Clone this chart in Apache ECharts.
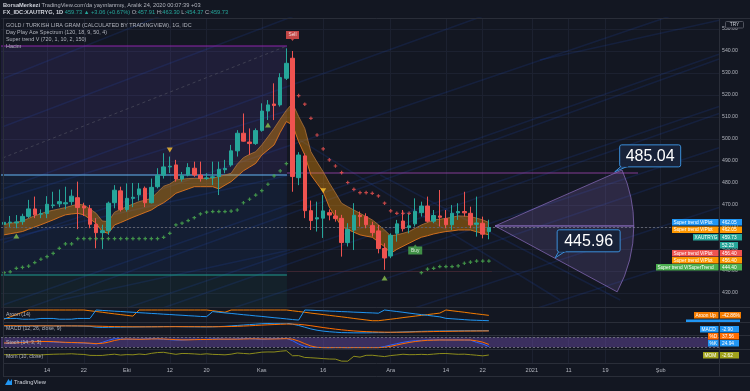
<!DOCTYPE html>
<html>
<head>
<meta charset="utf-8">
<script src="https://cdn.jsdelivr.net/npm/echarts@6/dist/echarts.min.js"></script>
<style>
html,body{margin:0;padding:0;background:#131722;overflow:hidden;}
#chart{width:750px;height:391px;}
</style>
</head>
<body>
<div id="chart"></div>
<script>
// ================= DATA =================
const firstTradingDay = '2020-09-03';
const slotCount = 117;
const tickDates = ['2020-09-14','2020-09-22','2020-10-01','2020-10-12','2020-10-20','2020-11-02','2020-11-16','2020-12-01','2020-12-14','2020-12-22','2021-01-01','2021-01-11','2021-01-19','2021-02-01'];
const tickNames = ['14','22','Eki','12','20','Kas','16','Ara','14','22','2021','11','19','Şub'];

// open, close, low, high
const ohlc = [
[461.2,462.1,460.6,463.2],[461.9,462.2,460.0,465.0],[461.8,462.3,459.4,465.4],[462.4,464.8,461.0,466.0],
[464.8,468.2,464.0,472.3],[468.2,465.5,464.0,473.8],[465.8,466.1,464.0,468.0],[466.1,470.3,464.0,474.0],
[469.7,470.0,468.5,476.0],[470.5,471.5,469.0,477.0],[470.5,471.0,468.0,478.3],[471.5,474.0,470.0,477.0],
[473.3,468.8,459.0,480.6],[469.5,468.6,465.0,471.0],[468.3,461.2,459.4,470.0],[461.2,457.4,450.3,464.0],
[457.4,458.3,450.0,461.0],[458.3,470.8,456.4,471.5],[471.0,476.7,468.5,479.0],[476.4,467.9,467.0,478.3],
[467.9,473.0,467.0,479.8],[473.0,473.5,469.0,480.0],[474.6,477.3,472.0,480.0],[477.6,471.0,469.0,478.4],
[471.0,478.0,470.7,482.0],[478.3,483.5,477.5,486.7],[483.5,487.3,482.0,493.5],[487.3,487.6,484.5,492.0],
[488.2,481.8,480.6,490.5],[481.8,483.3,480.6,485.0],[483.6,487.0,483.0,489.0],[486.7,483.6,482.8,489.7],
[483.6,482.0,480.6,489.7],[482.0,482.3,481.4,484.4],[482.5,482.8,479.1,489.7],[482.9,486.2,474.5,489.7],
[486.0,486.6,484.4,490.5],[488.2,494.6,487.4,497.3],[494.6,502.6,492.0,504.0],[502.6,499.0,498.8,511.6],
[498.6,497.9,492.7,504.8],[497.9,503.8,497.3,504.8],[503.9,512.7,503.3,516.2],[512.7,515.5,508.6,517.7],
[515.9,515.2,508.6,525.3],[515.5,527.9,514.7,529.9],[527.6,534.4,526.8,541.2],[536.7,482.9,476.0,540.0],
[482.4,492.7,479.0,494.0],[492.3,467.4,464.0,493.5],[467.4,462.9,458.6,472.0],[463.6,464.2,457.9,471.5],
[464.0,467.3,455.0,474.5],[466.5,465.4,463.0,468.0],[465.0,463.8,462.4,467.7],[463.9,452.9,446.5,465.5],
[452.9,458.9,451.1,461.7],[458.6,465.3,449.5,470.8],[465.3,464.7,460.2,467.0],[464.7,461.0,459.4,466.2],
[460.6,457.4,455.6,462.4],[458.2,450.2,448.0,460.9],[450.2,445.9,440.5,452.6],[446.8,456.2,445.8,457.1],
[457.1,461.4,453.3,463.2],[462.7,459.2,457.9,467.7],[459.7,460.5,457.1,466.2],[461.4,467.1,460.2,473.0],
[466.5,469.5,464.7,471.5],[469.5,462.6,462.0,473.8],[462.6,465.2,461.7,467.7],[465.0,464.4,460.2,476.8],
[463.8,461.0,459.4,467.7],[461.0,466.2,458.6,470.0],[466.4,467.0,463.2,470.8],[467.0,466.4,464.7,476.0],
[466.2,460.9,459.4,469.2],[461.2,461.8,455.6,473.8],[461.7,456.7,454.8,464.7],[457.91,459.73,454.37,463.30]
];
const bandUpper = [461.2,461.6,462.1,462.7,463.9,465.1,466,467,467.6,468.2,468.8,469.6,470.3,470,468.2,466.2,462.7,462.4,466.7,468,
469.2,470.4,471.5,472.2,473,475.8,478.5,479.5,481.4,481.7,482,482.1,482.1,482.1,482.1,482.9,483.6,484.4,488.5,491.5,
493,494.2,497.3,501,504.8,509,513,516.2,510.2,504.8,494.2,489.5,485.1,480,475.5,470.8,469.2,467.7,466.2,464.7,
463.2,461,458.6,455.9,456.4,457.1,457.9,459.4,460.9,462,463.2,463.5,463.9,464.4,465,464.9,464.7,464,463.2,462.05];
const bandLower = [456.4,456.9,457.4,457.9,459,460,461,462.1,463.2,464.4,465.5,465.9,466.2,465.5,463.6,461.7,457.9,457.1,460.9,462,
463.2,464.4,465.5,466.6,467.7,469.5,471,473,475.3,476.3,477.3,478.3,478.3,478.3,478.3,477.3,479,480.6,483,485.5,
487.2,488.9,492.7,495,497.3,503,507.9,506.4,498.8,492.7,483.6,479.8,476,469,464.6,460.2,458.9,457.6,456.4,455.8,
455.3,453.2,451,448,449.8,451.2,452.6,454,455.3,456,456.8,457.4,457.9,458.2,458.6,458.6,458.6,457.8,457.1,456.4];
const trendGreen = [439.2,439.6,441.2,441.6,442.2,443.8,445.3,446.5,448,450.3,452.3,452.3,454.7,454.7,454.7,454.7,454.7,454.7,454.7,454.7,
454.7,454.7,454.7,454.7,454.7,454.7,455.3,457.1,460.9,461.7,462.9,464.2,465.9,466.7,467,467,467,467.2,467.7,471,
472.6,474.5,476.5,479.4,483.2,485.5,488.8,null,null,null,null,null,null,null,null,null,null,null,null,null,
null,null,null,null,null,null,null,null,439.2,440.8,441.2,442,442,442,442.3,443.5,444,444.5,444.5,444.5];
const trendRed = [null,null,null,null,null,null,null,null,null,null,null,null,null,null,null,null,null,null,null,null,
null,null,null,null,null,null,null,null,null,null,null,null,null,null,null,null,null,null,null,null,
null,null,null,null,null,null,null,null,519.7,515.8,509.4,501.8,495.5,490.5,487.7,484.7,480.2,477.1,475.6,475.6,
475.3,474.1,470.8,467.3,466.2,466.2,466.2,null,null,null,null,null,null,null,null,null,null,null,null,null];
const sellSignals = [[47, 546.8]];
const buySignals = [[67, 449.8]];
const downTriangles = [[27, 495.0],[52, 476.4]];
const upTriangles = [[2, 455.9],[43, 506.4],[62, 436.8]];
const lastClose = 459.73;

const aroonUp = [14,36,57,79,100,100,100,100,100,100,100,100,100,100,93,86,79,71,64,57,50,43,
100,100,100,100,100,100,100,100,100,100,100,100,93,86,79,100,100,100,100,100,100,100,100,100,100,
93,86,79,71,64,57,50,43,36,29,21,14,7,0,0,7,14,21,29,36,43,50,57,64,71,100,93,86,79,71,64,57,50];
const aroonDown = [21,21,21,14,14,14,21,21,21,14,14,14,21,21,21,
100,96,93,89,86,82,79,75,72,68,65,61,58,54,51,47,44,40,38,
85,79,73,68,62,56,51,45,40,34,28,23,17,11,6,
100,98,95,93,90,88,85,83,80,78,75,73,70,
100,93,86,79,71,64,57,50,43,36,22,18,14,10,6,4,2,0];
const macdLine = [4.8,5,5,4.5,4.8,5,5.2,5,4.8,5,5.2,5,4.8,4.5,4,
2,1.5,1.8,2,2.2,2.5,2.5,2.8,3,3,3.2,3.5,3.5,3.5,
3.2,3,3,2.8,2.8,3,3.5,4,5,6,7,
8,9,10,10.5,11,11,11.5,
9,6,2,-2,-5,-7,
-8.5,-9.5,-10.5,-10.7,-11,-11,-11,-10.7,
-10.5,-10.5,-10,-9.5,-9,-8.5,-8,-7.5,-7.2,-7,
-6.8,-6.6,-6.5,-6.4,-6.3,-6.2,-6.2,-6.1,-6.1];
const signalLine = [5.5,5.5,5.4,5.3,5.2,5.2,5.1,5.1,5,5,5,5,5,4.9,4.8,
4.5,4.1,3.7,3.4,3.2,3,2.9,2.8,2.8,2.9,2.9,3,3.1,3.2,
3.2,3.2,3.1,3.1,3,3,3.1,3.3,3.6,4,4.6,
5.3,6,6.8,7.5,8.1,8.7,9.2,
9.2,8.6,7.3,5.4,3.3,1.2,
-0.7,-2.5,-4.1,-5.4,-6.6,-7.5,-8.2,-8.7,
-9.1,-9.4,-9.6,-9.6,-9.5,-9.3,-9,-8.7,-8.4,-8.1,
-7.8,-7.6,-7.4,-7.2,-7,-6.9,-6.8,-6.7,-6.6];
const stochK = [44,46,50,52,55,56,55,54,52,50,48,48,47,45,42,40,50,62,72,70,68,68,68,
70,72,70,68,66,64,64,66,68,66,68,70,70,68,68,70,72,72,70,68,70,72,72,74,
60,40,25,18,18,18,17,18,18,17,18,18,18,18,18,25,34,42,50,56,60,62,64,64,65,64,64,65,64,63,50,40,24.94];
const stochD = [46,46,47,49,52,54,55,55,54,52,50,49,48,47,45,42,44,51,61,68,70,69,68,
69,70,71,70,68,66,65,65,66,67,67,68,69,69,69,69,70,71,71,70,70,70,71,72,
69,58,42,28,20,18,18,18,18,18,18,18,18,18,18,20,26,34,42,49,55,59,62,63,64,64,64,64,64,64,59,51,37.56];
const momentum = [2,-1,3,5,4,1,-2,3,6,8,8.9,11.8,6.5,3.8,-7,-8.1,-7.8,0.5,6.8,-3.6,2,-0.5,8.5,2.4,16.8,26.1,29,16.8,5.1,15.4,
14,10.1,4.7,11.3,4.7,2.7,-0.7,7,20.8,15.7,10.9,20.2,30.7,33.2,32.5,41.7,47.8,-11.7,-9.9,-31.6,-35,-39.8,-45.4,-50.1,-51.4,-75,-75.5,-17.6,-28,-6.4,
-5.5,-13.8,-21.4,-9.2,-2.4,6.3,1.1,1.8,4.8,1.6,7.8,14.2,15.1,10,5.4,7.2,0.9,-5.6,-12.8,-2.62];

// drawings (bar index, price)
const zonePurple = [[-0.7, 483.6],[46.1, 542.3]];
const zoneBlue = [[-0.7, 438.2],[46.1, 483.6]];
const zoneTeal = [[-0.7, 423.6],[46.1, 438.2]];
const purpleLevel = [[-0.7, 542.3],[46.1, 542.3]];
const blueLevel = [[-0.7, 483.6],[46.1, 483.6]];
const tealLevel = [[-0.7, 438.2],[46.1, 438.2]];
const dashedTrend = [[-0.2, 491.4],[46.1, 542.3]];
const magentaLevel = [[46.1, 484.8],[103.3, 484.8]];
const maroonLevel = [[46.1, 439.7],[79.5, 439.7]];
const streaks = [
 [[-0.2,505.5],[116.5,629.5]], [[-0.2,477.3],[116.5,594.5]], [[-0.2,452.7],[116.5,563.4]],
 [[-0.2,424.5],[116.5,538.5]], [[-0.2,419.0],[116.5,536.4]], [[-0.2,404.0],[116.5,514.8]],
 [[-0.2,397.7],[116.5,511.6]], [[-0.2,388.6],[116.5,496.0]], [[-0.2,377.3],[116.5,488.0]],
 [[-0.2,361.4],[116.5,468.8]], [[-0.2,345.5],[116.5,449.5]], [[-0.2,527.4],[116.5,657.0]],
 [[-0.7,454.1],[46.6,483.6]], [[-0.7,472.3],[46.6,513.2]], [[9.1,426.8],[46.6,449.5]],
 [[48.2,499.5],[90.6,426.8]], [[61.3,483.6],[100.4,426.8]], [[87.3,535.9],[116.7,554.1]]
];
const projectionApex = [80, 460.45];
const projectionUpper = [100.7, 485.9];
const projectionLower = [99.9, 430.5];
const calloutTips = [[99.5, 485.04],[89.8, 445.96]];
const calloutTexts = ['485.04','445.96'];

// ================= BUILD =================
const days = [];
{ let t = Date.UTC(2020, 8, 3);
  while (days.length < slotCount) { const d = new Date(t); const w = d.getUTCDay(); if (w !== 0 && w !== 6) days.push(d.toISOString().slice(0,10)); t += 86400000; } }
const tickIdx = tickDates.map(t => days.indexOf(t));
const labelAt = {}; tickIdx.forEach((k, j) => labelAt[k] = tickNames[j]);
const idx = arr => arr.map((v, i) => [i, v]);

const UP = '#26a69a', DN = '#ef5350';
const GRIDC = '#1c2130';
const grids = [
  {left:1, right:31, top:18, height:289},
  {left:1, right:31, top:307, height:15},
  {left:1, right:31, top:322, height:13},
  {left:1, right:31, top:335, height:14},
  {left:1, right:31, top:349, height:14}
];
const xAxes = grids.map((g, k) => ({
  type:'value', gridIndex:k, min:-0.5, max:slotCount-0.5,
  axisLine:{show:false},
  axisTick:{show:false, customValues:tickIdx},
  axisLabel:{show:k===4, customValues:tickIdx, formatter:v => labelAt[v] || '', color:'#b2b5be', fontSize:5.6, margin:4, fontFamily:'Liberation Sans'},
  splitLine:{show:true, lineStyle:{color:GRIDC, width:1}}
}));
const yAxes = [
  {type:'value', gridIndex:0, position:'right', min:423.6, max:555, splitNumber:13, minInterval:10, maxInterval:10,
   axisLine:{show:false}, axisTick:{show:false},
   axisLabel:{color:'#b2b5be', fontSize:5.2, margin:3, fontFamily:'Liberation Sans', showMinLabel:false, showMaxLabel:false, formatter:v => v.toFixed(2)},
   splitLine:{lineStyle:{color:GRIDC, width:1}}},
  {type:'value', gridIndex:1, min:-12, max:128, show:false},
  {type:'value', gridIndex:2, min:-16, max:14, show:false},
  {type:'value', gridIndex:3, min:10, max:94, show:false},
  {type:'value', gridIndex:4, min:-97, max:68, show:false}
];

const plusPath = 'path://M2,0H4V2H6V4H4V6H2V4H0V2H2Z';
const series = [
  { type:'line', name:'zones', xAxisIndex:0, yAxisIndex:0, data:[[-1,null]], symbol:'none', silent:true,
    markArea:{silent:true, data:[
      [{coord:zonePurple[0], itemStyle:{color:'rgba(120,80,220,0.12)'}},{coord:zonePurple[1]}],
      [{coord:zoneBlue[0], itemStyle:{color:'rgba(41,120,255,0.08)'}},{coord:zoneBlue[1]}],
      [{coord:zoneTeal[0], itemStyle:{color:'rgba(38,166,154,0.07)'}},{coord:zoneTeal[1]}]
    ]}},
  { type:'lines', coordinateSystem:'cartesian2d', xAxisIndex:0, yAxisIndex:0, z:2, silent:true, clip:true,
    lineStyle:{color:'rgba(41,98,255,0.24)', width:1.6},
    data: streaks.map(s => ({coords:s})) },
  { type:'lines', coordinateSystem:'cartesian2d', xAxisIndex:0, yAxisIndex:0, z:3, silent:true, clip:true,
    data:[
      {coords:purpleLevel, lineStyle:{color:'#8e24aa', width:2}},
      {coords:blueLevel, lineStyle:{color:'#64b5f6', width:2}},
      {coords:tealLevel, lineStyle:{color:'#1e9c8e', width:2}},
      {coords:dashedTrend, lineStyle:{color:'#5d606b', width:1, type:[3,3]}},
      {coords:magentaLevel, lineStyle:{color:'#ab47bc', width:1.5}},
      {coords:maroonLevel, lineStyle:{color:'#5c2a31', width:1}}
    ]},
  { type:'custom', name:'band', xAxisIndex:0, yAxisIndex:0, z:3, silent:true, clip:true,
    data: bandUpper.map((u, i) => [i, u, bandLower[i]]),
    encode:{x:0, y:[1,2]},
    renderItem:(params, api) => {
      if (params.dataIndex !== 0) return null;
      const top = bandUpper.map((v, i) => api.coord([i, v]));
      const bot = bandLower.map((v, i) => api.coord([i, v]));
      return {type:'group', children:[
        {type:'polygon', shape:{points: top.concat(bot.slice().reverse())}, style:{fill:'rgba(255,152,0,0.36)', stroke:null}},
        {type:'polyline', shape:{points: top}, style:{stroke:'#b0733a', lineWidth:0.8, fill:null}},
        {type:'polyline', shape:{points: bot}, style:{stroke:'#e0761f', lineWidth:0.9, fill:null}}
      ]};
    }},
  { type:'candlestick', xAxisIndex:0, yAxisIndex:0, z:5, barWidth:4,
    data: ohlc.map((r,i) => [i, r[0], r[1], r[2], r[3]]),
    itemStyle:{color:UP, color0:DN, borderColor:UP, borderColor0:DN, borderWidth:1},
    markLine:{silent:true, symbol:'none', label:{show:false}, lineStyle:{color:'#5d606b', type:[2,2], width:1},
      data:[{yAxis:lastClose}]}},
  { type:'scatter', xAxisIndex:0, yAxisIndex:0, z:6, symbol:plusPath, symbolSize:3.6, itemStyle:{color:'#4caf50'},
    data: trendGreen.map((v,i) => v == null ? null : [i, v]).filter(Boolean)},
  { type:'scatter', xAxisIndex:0, yAxisIndex:0, z:6, symbol:plusPath, symbolSize:3.6, itemStyle:{color:DN},
    data: trendRed.map((v,i) => v == null ? null : [i, v]).filter(Boolean)},
  { type:'scatter', xAxisIndex:0, yAxisIndex:0, z:7, symbol:'triangle', symbolRotate:180, symbolSize:[6,5], itemStyle:{color:'#fbc02d'}, data:downTriangles},
  { type:'scatter', xAxisIndex:0, yAxisIndex:0, z:7, symbol:'triangle', symbolSize:[6,5], itemStyle:{color:'#8bc34a'}, data:upTriangles},
  { type:'scatter', xAxisIndex:0, yAxisIndex:0, z:8, symbol:'path://M0,0H26V16H16L13,20L10,16H0Z', symbolSize:[13,10], itemStyle:{color:DN},
    label:{show:true, position:'inside', formatter:'Sell', color:'#fff', fontSize:4.8, offset:[0,-1], fontFamily:'Liberation Sans'}, data:sellSignals},
  { type:'scatter', xAxisIndex:0, yAxisIndex:0, z:8, symbol:'path://M0,4H10L13,0L16,4H26V20H0Z', symbolSize:[14,10], itemStyle:{color:'#4caf50'},
    label:{show:true, position:'inside', formatter:'Buy', color:'#fff', fontSize:4.8, offset:[0,1], fontFamily:'Liberation Sans'}, data:buySignals},
  // Aroon
  { type:'line', xAxisIndex:1, yAxisIndex:1, data:idx(aroonUp), symbol:'none', lineStyle:{color:'#f57c00', width:1}},
  { type:'line', xAxisIndex:1, yAxisIndex:1, data:idx(aroonDown), symbol:'none', lineStyle:{color:'#2196f3', width:1}},
  // MACD
  { type:'line', xAxisIndex:2, yAxisIndex:2, data:idx(macdLine), symbol:'none', lineStyle:{color:'#2196f3', width:1}},
  { type:'line', xAxisIndex:2, yAxisIndex:2, data:idx(signalLine), symbol:'none', lineStyle:{color:'#ff6d00', width:1}},
  // Stoch
  { type:'line', xAxisIndex:3, yAxisIndex:3, data:idx(stochK), symbol:'none', lineStyle:{color:'#2962ff', width:1},
    markArea:{silent:true, itemStyle:{color:'rgba(126,87,194,0.38)'}, data:[[{yAxis:20},{yAxis:80}]]},
    markLine:{silent:true, symbol:'none', label:{show:false}, lineStyle:{color:'#787b86', type:[2,2], width:0.8}, data:[{yAxis:20},{yAxis:80}]}},
  { type:'line', xAxisIndex:3, yAxisIndex:3, data:idx(stochD), symbol:'none', lineStyle:{color:'#ff6d00', width:1}},
  // Momentum
  { type:'line', xAxisIndex:4, yAxisIndex:4, data:idx(momentum), symbol:'none', lineStyle:{color:'#8d8d1c', width:1}}
];

const chart = echarts.init(document.getElementById('chart'), null, {renderer:'canvas'});
chart.setOption({
  animation:false, backgroundColor:'#131722',
  grid:grids, xAxis:xAxes, yAxis:yAxes, series:series
});

// ================= OVERLAY (texts, projection, labels) =================
const toPx = p => chart.convertToPixel({xAxisIndex:0, yAxisIndex:0}, p);
const FONT = 'Liberation Sans';
const g = [];
const txt = (x, y, text, size, fill, extra) => g.push(Object.assign({type:'text', z:100, x, y,
  style:{text, fontSize:size, fontFamily:FONT, fill, verticalAlign:'middle'}}, extra || {}));
const line = (x1,y1,x2,y2,stroke) => g.push({type:'line', z:90, shape:{x1,y1,x2,y2}, style:{stroke, lineWidth:1}});

// frame and pane separators
[18,307,322,335,349,363,376].forEach(y => line(3, y+0.5, 750, y+0.5, '#2a2e39'));
line(3.5, 18, 3.5, 376, '#2a2e39');
line(719.5, 18, 719.5, 376, '#2a2e39');

// header
g.push({type:'text', z:100, x:3, y:5.5, style:{text:'{b|BorsaMerkezi} TradingView.com\'da yayınlanmış, Aralık 24, 2020 00:07:39 +03',
  fontSize:5.7, fontFamily:FONT, fill:'#b2b5be', verticalAlign:'middle', rich:{b:{fontWeight:'bold', fill:'#d1d4dc', fontSize:5.7, fontFamily:FONT}}}});
g.push({type:'text', z:100, x:3, y:12.5, style:{text:'{b|FX_IDC:XAUTRYG, 1D} {g|459.73 ▲ +3.06 (+0.67%)} O:{g|457.91} H:{g|463.30} L:{g|454.37} C:{g|459.73}',
  fontSize:5.7, fontFamily:FONT, fill:'#b2b5be', verticalAlign:'middle',
  rich:{b:{fontWeight:'bold', fill:'#d1d4dc', fontSize:5.7, fontFamily:FONT}, g:{fill:UP, fontSize:5.7, fontFamily:FONT}}}});
// legends
txt(6, 25.7, 'GOLD / TURKISH LIRA GRAM (CALCULATED BY TRADINGVIEW), 1G, IDC', 5.4, '#b2b5be');
txt(6, 32.7, 'Day Play Ace Spectrum (120, 18, 9, 50, 4)', 5.4, '#b2b5be');
txt(6, 39.7, 'Super trend V (720, 1, 10, 2, 150)', 5.4, '#b2b5be');
txt(6, 46.7, 'Hacim', 5.4, '#b2b5be');
txt(6, 315, 'Aroon (14)', 5.2, '#b2b5be');
txt(6, 329, 'MACD (12, 26, close, 9)', 5.2, '#b2b5be');
txt(6, 342.5, 'Stoch (14, 3, 3)', 5.2, '#b2b5be');
txt(6, 356.5, 'Mom (10, close)', 5.2, '#b2b5be');
// TradingView logo
g.push({type:'polygon', z:100, shape:{points:[[5,385],[8.5,379],[10,381.5],[12,379],[12,385]]}, style:{fill:'#2196f3'}});
txt(14, 382.5, 'TradingView', 5.8, '#d1d4dc');

// projection tool
const A = toPx(projectionApex), B = toPx(projectionUpper), C = toPx(projectionLower);
const r = Math.hypot(B[0]-A[0], B[1]-A[1]);
const aB = Math.atan2(B[1]-A[1], B[0]-A[0]), aC = Math.atan2(C[1]-A[1], C[0]-A[0]);
g.push({type:'sector', z:20, shape:{cx:A[0], cy:A[1], r, r0:0, startAngle:aB, endAngle:0, clockwise:true},
  style:{fill:'rgba(149,117,205,0.20)', stroke:'rgba(149,117,205,0.65)', lineWidth:1}});
g.push({type:'sector', z:20, shape:{cx:A[0], cy:A[1], r, r0:0, startAngle:0, endAngle:aC, clockwise:true},
  style:{fill:'rgba(149,117,205,0.17)', stroke:'rgba(149,117,205,0.65)', lineWidth:1}});
// callouts
const boxOff = [[5, 5, 61, 22],[2, 6, 63, 22]];
calloutTips.forEach((tp, k) => {
  const P = toPx(tp); const o = boxOff[k];
  const bx = P[0] + o[0], by = P[1] - o[1] - o[3];
  g.push({type:'polygon', z:95, shape:{points:[[bx+2, by+o[3]-1],[bx+9, by+o[3]-1],[P[0], P[1]]]}, style:{fill:'#1a2540', stroke:'#3b8ed8', lineWidth:1}});
  g.push({type:'rect', z:96, shape:{x:bx, y:by, width:o[2], height:o[3], r:2}, style:{fill:'#182238', stroke:'#3b8ed8', lineWidth:1}});
  g.push({type:'rect', z:97, shape:{x:bx+1.5, y:by+o[3]-1.5, width:7, height:1.5}, style:{fill:'#182238'}});
  g.push({type:'text', z:98, x:bx + o[2]/2, y:by + o[3]/2 + 0.5, style:{text:calloutTexts[k], fontSize:16, fontFamily:FONT, fill:'#ffffff', align:'center', verticalAlign:'middle'}});
});

// right side value labels
const tag = (y, name, nameX, value, color, vw) => {
  if (name) {
    g.push({type:'rect', z:100, shape:{x:nameX, y, width:718.5-nameX, height:6.5}, style:{fill:color}});
    g.push({type:'text', z:101, x:nameX+1.5, y:y+3.4, style:{text:name, fontSize:4.8, fontFamily:FONT, fill:'#ffffff', verticalAlign:'middle'}});
  }
  g.push({type:'rect', z:100, shape:{x:720, y, width:vw, height:6.5}, style:{fill:color}});
  g.push({type:'text', z:101, x:722, y:y+3.4, style:{text:value, fontSize:4.8, fontFamily:FONT, fill:'#ffffff', verticalAlign:'middle'}});
};
tag(219, 'Super trend V/Plot', 672, '462.05', '#2196f3', 22);
tag(226.5, 'Super trend V/Plot', 672, '462.05', '#ff9800', 22);
tag(234, 'XAUTRYG', 693, '459.73', UP, 22);
tag(242, null, 0, '52:23', UP, 18);
tag(250, 'Super trend V/Plot', 672, '456.40', DN, 22);
tag(257, 'Super trend V/Plot', 672, '456.40', '#ff9800', 22);
tag(264, 'Super trend V/SuperTrend', 656, '444.40', '#4caf50', 22);
g.push({type:'rect', z:99, shape:{x:686, y:319.5, width:54, height:2.5}, style:{fill:'#2196f3'}});
tag(312, 'Aroon Up', 694, '-42.86%', '#f57c00', 21);
tag(326, 'MACD', 700, '-2.90', '#2196f3', 19);
tag(333, '%D', 708, '37.56', '#ff6d00', 19);
tag(340, '%K', 708, '24.94', '#2196f3', 19);
tag(352, 'MOM', 703, '-2.62', '#a0a21c', 19);
// currency tag
g.push({type:'rect', z:100, shape:{x:725.5, y:21.5, width:18, height:6.5, r:1}, style:{fill:'#131722', stroke:'#50535e', lineWidth:1}});
g.push({type:'text', z:101, x:734.5, y:25, style:{text:'TRY', fontSize:4.8, fontFamily:FONT, fill:'#d1d4dc', align:'center', verticalAlign:'middle'}});

chart.setOption({graphic:{elements:g}});
</script>
</body>
</html>
